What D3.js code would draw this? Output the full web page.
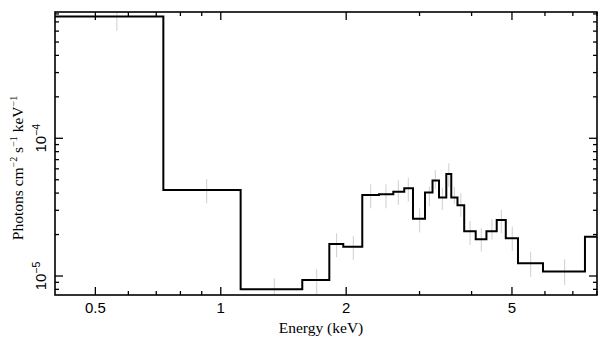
<!DOCTYPE html>
<html>
<head>
<meta charset="utf-8">
<script src="https://cdn.jsdelivr.net/npm/d3@7"></script>
<style>
    html, body { margin: 0; padding: 0; background: #fff; }
    svg { display: block; }
    .tick-label { font-family: "Liberation Sans", Arial, sans-serif; font-size: 15px; fill: #000; }
    .axis-title { font-family: "Liberation Serif", "Times New Roman", serif; font-size: 15.5px; fill: #000; }
</style>
</head>
<body>
<div id="chart"></div>
<script>
"use strict"

// Bin edges (keV) of the folded model, and its level in each bin
const binEdges = [0.4, 0.728, 1.116, 1.569, 1.822, 1.968, 2.186, 2.397, 2.595, 2.757,
    2.893, 3.092, 3.223, 3.341, 3.478, 3.575, 3.700, 3.840, 4.092, 4.342,
    4.596, 4.832, 5.169, 5.935, 7.485, 8.5]
const modelLevels = [7.66e-4, 4.21e-5, 8.01e-6, 9.35e-6, 1.708e-5, 1.632e-5, 3.877e-5, 3.92e-5,
    4.095e-5, 4.333e-5, 2.603e-5, 4.04e-5, 4.94e-5, 3.716e-5, 5.503e-5, 3.716e-5,
    3.262e-5, 2.112e-5, 1.847e-5, 2.112e-5, 2.551e-5, 1.878e-5, 1.237e-5, 1.078e-5, 1.929e-5]

// Data error bars: energy, upper and lower flux
const errEnergy = [0.563, 0.925, 1.344, 1.699, 1.897, 2.080, 2.290, 2.492, 2.668, 2.819,
    3.002, 3.167, 3.273, 3.402, 3.527, 3.636, 3.769, 3.966, 4.220, 4.477,
    4.714, 5.008, 5.545, 6.69]
const errHigh = [8.8e-4, 5.06e-5, 9.62e-6, 1.119e-5, 2.04e-5, 1.952e-5, 4.63e-5, 4.63e-5, 4.98e-5, 5.175e-5,
    3.10e-5, 4.45e-5, 5.886e-5, 4.39e-5, 6.58e-5, 4.45e-5, 3.987e-5, 2.508e-5, 2.22e-5, 2.585e-5,
    3.015e-5, 2.28e-5, 1.502e-5, 1.322e-5]
const errLow = [6.04e-4, 3.37e-5, 7.0e-6, 7.1e-6, 1.367e-5, 1.307e-5, 3.10e-5, 3.10e-5, 3.28e-5, 3.465e-5,
    2.07e-5, 3.224e-5, 4.282e-5, 3.015e-5, 4.43e-5, 3.334e-5, 2.695e-5, 1.68e-5, 1.502e-5, 1.847e-5,
    2.042e-5, 1.519e-5, 9.88e-6, 8.6e-6]

const xMajor = [0.5, 1, 2, 5]
const xMajorLabels = ["0.5", "1", "2", "5"]
const xMinor = [0.6, 0.7, 0.8, 0.9, 3, 4, 6, 7, 8]
const yMajor = [1e-5, 1e-4]
const yMajorExp = ["−5", "−4"]
const yMinor = [8e-6, 9e-6, 2e-5, 3e-5, 4e-5, 5e-5, 6e-5, 7e-5, 8e-5, 9e-5,
    2e-4, 3e-4, 4e-4, 5e-4, 6e-4, 7e-4, 8e-4]

const width = 609, height = 357
const plot = { left: 55, right: 597, top: 12, bottom: 295 }

const x = d3.scaleLog().domain([0.4, 8]).range([plot.left, plot.right])
const y = d3.scaleLog().domain([7.28e-6, 8.26e-4]).range([plot.bottom, plot.top])

const svg = d3.select("#chart")
    .append("svg")
    .attr("width", width)
    .attr("height", height)

svg.append("defs").append("clipPath")
    .attr("id", "plot-clip")
    .append("rect")
    .attr("x", plot.left)
    .attr("y", plot.top)
    .attr("width", plot.right - plot.left)
    .attr("height", plot.bottom - plot.top)

const inner = svg.append("g").attr("clip-path", "url(#plot-clip)")

// grey data error bars
inner.selectAll(".err")
    .data(errEnergy)
    .enter()
    .append("line")
    .classed("err", true)
    .attr("x1", d => x(d))
    .attr("x2", d => x(d))
    .attr("y1", (d, i) => y(errHigh[i]))
    .attr("y2", (d, i) => y(errLow[i]))
    .attr("stroke", "#cfcfcf")
    .attr("stroke-width", 1)

// model as a step histogram
const stepPoints = binEdges.map((e, i) => [e, modelLevels[Math.min(i, modelLevels.length - 1)]])
inner.append("path")
    .datum(stepPoints)
    .attr("fill", "none")
    .attr("stroke", "#000")
    .attr("stroke-width", 2)
    .attr("stroke-linejoin", "miter")
    .attr("d", d3.line()
        .x(d => x(d[0]))
        .y(d => y(d[1]))
        .curve(d3.curveStepAfter))

// frame with inward ticks on all four sides
const axisG = svg.append("g").attr("stroke", "#000")
const drawXTicks = (values, len) => {
    values.forEach(v => {
        axisG.append("line")
            .attr("x1", x(v)).attr("x2", x(v))
            .attr("y1", plot.bottom).attr("y2", plot.bottom - len)
            .attr("stroke-width", 1.3)
        axisG.append("line")
            .attr("x1", x(v)).attr("x2", x(v))
            .attr("y1", plot.top).attr("y2", plot.top + len)
            .attr("stroke-width", 1.3)
    })
}
const drawYTicks = (values, len) => {
    values.forEach(v => {
        axisG.append("line")
            .attr("x1", plot.left).attr("x2", plot.left + len)
            .attr("y1", y(v)).attr("y2", y(v))
            .attr("stroke-width", 1.3)
        axisG.append("line")
            .attr("x1", plot.right).attr("x2", plot.right - len)
            .attr("y1", y(v)).attr("y2", y(v))
            .attr("stroke-width", 1.3)
    })
}
drawXTicks(xMajor, 8)
drawXTicks(xMinor, 4)
drawYTicks(yMajor, 8)
drawYTicks(yMinor, 4)

axisG.append("rect")
    .attr("x", plot.left)
    .attr("y", plot.top)
    .attr("width", plot.right - plot.left)
    .attr("height", plot.bottom - plot.top)
    .attr("fill", "none")
    .attr("stroke-width", 1.6)

// tick labels
svg.selectAll(".x-label")
    .data(xMajor)
    .enter()
    .append("text")
    .attr("class", "tick-label x-label")
    .attr("x", d => x(d))
    .attr("y", 312.5)
    .attr("text-anchor", "middle")
    .text((d, i) => xMajorLabels[i])

const yLabels = svg.selectAll(".y-label")
    .data(yMajor)
    .enter()
    .append("text")
    .attr("class", "tick-label y-label")
    .attr("transform", d => `translate(46, ${y(d)}) rotate(-90)`)
    .attr("text-anchor", "middle")
yLabels.append("tspan").text("10")
yLabels.append("tspan")
    .attr("dy", -6)
    .attr("font-size", 10.5)
    .text((d, i) => yMajorExp[i])

// axis titles
svg.append("text")
    .attr("class", "axis-title")
    .attr("x", 321)
    .attr("y", 333)
    .attr("text-anchor", "middle")
    .text("Energy (keV)")

const yTitle = svg.append("text")
    .attr("class", "axis-title")
    .attr("transform", "translate(23, 168) rotate(-90)")
    .attr("text-anchor", "middle")
const titleParts = [["Photons cm", false], ["−2", true], [" s", false], ["−1", true], [" keV", false], ["−1", true]]
let raised = false
titleParts.forEach(([txt, sup]) => {
    const ts = yTitle.append("tspan").text(txt)
    if (sup && !raised) { ts.attr("dy", -6).attr("font-size", 10); raised = true }
    else if (!sup && raised) { ts.attr("dy", 6); raised = false }
    else if (sup) { ts.attr("font-size", 10) }
})
</script>
</body>
</html>
